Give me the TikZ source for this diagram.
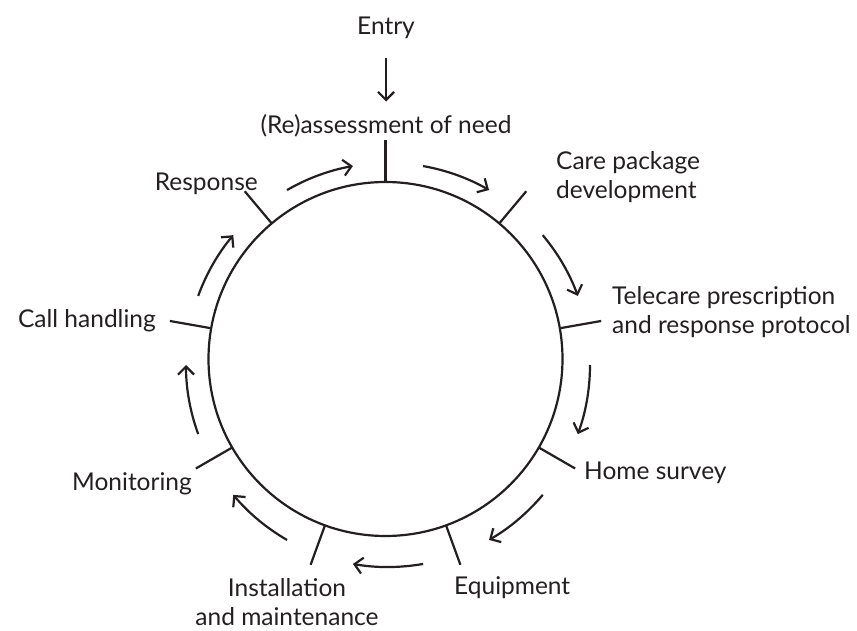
\documentclass[tikz,border=0pt]{standalone}
\usepackage{fontspec}
\setmainfont{Lato}
\usetikzlibrary{arrows.meta,calc}
\definecolor{ink}{HTML}{231F20}
\begin{document}
\begin{tikzpicture}[x=1pt,y=1pt,
  lbl/.style={inner sep=0pt, text=ink, font=\fontsize{24.5}{29.5}\selectfont},
  ring/.style={draw=ink, line width=2.2pt},
  tick/.style={draw=ink, line width=2.2pt},
  flow/.style={draw=ink, line width=2.2pt, -{Straight Barb[length=8pt,width=16pt]}}]
\useasboundingbox (0,0) rectangle (857,630);
% circle
\coordinate (c) at (385.5,271);
\node[ring, circle, minimum size=354pt, inner sep=0pt] (cyc) at (c) {};
% ticks
\foreach \a/\n in {90/t0,50/t1,10/t2,-30/t3,-70/t4,-110/t5,-150/t6,170/t7,130/t8}{
  \coordinate (\n i) at ($(c)+(\a:177pt)$);
  \coordinate (\n o) at ($(c)+(\a:219pt)$);
  \draw[tick] (\n i) -- (\n o);
}
% flow arcs
\coordinate (ac) at (388,265);
\foreach \m in {70,30,-10,-50,-90,-130,-170,150,110}{
  \draw[flow] ($(ac)+(\m+10:202pt)$) arc[start angle=\m+10, end angle=\m-10, radius=202pt];
}
% labels
\node[lbl] (entry) at (386,602) {Entry};
\node[lbl] (need) at (386,504) {(Re)assessment of need};
\draw[flow, shorten <=19pt, shorten >=13pt] (entry) -- (need);
\node[lbl, anchor=west, align=left] (care) at (556,453) {Care package\\development};
\node[lbl, anchor=west, align=left] (tele) at (612,318) {Telecare prescription\\and response protocol};
\node[lbl, anchor=west] (home) at (584,157) {Home survey};
\node[lbl, anchor=west] (equip) at (454,42) {Equipment};
\node[lbl, align=center] (inst) at (287,28) {Installation\\and maintenance};
\node[lbl, anchor=east] (mon) at (192,146) {Monitoring};
\node[lbl, anchor=east] (call) at (156,309) {Call handling};
\node[lbl, anchor=east] (resp) at (258,446) {Response};
\end{tikzpicture}
\end{document}
